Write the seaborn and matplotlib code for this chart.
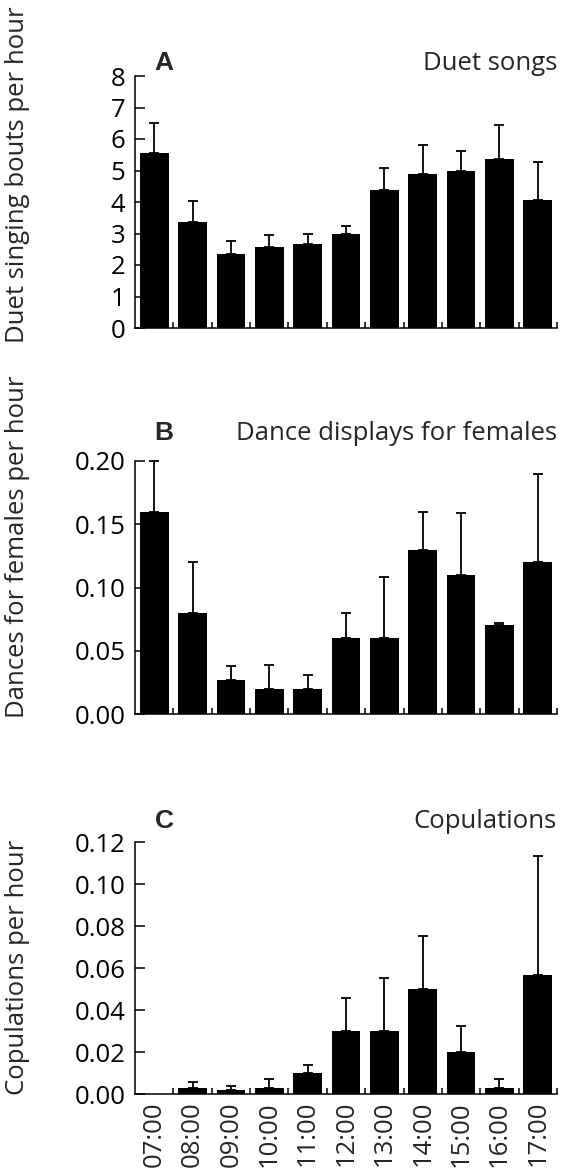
import numpy as np
import matplotlib
matplotlib.use("Agg")
import matplotlib.pyplot as plt
import seaborn as sns
from matplotlib.ticker import FixedLocator, FormatStrFormatter

hours = ["07:00", "08:00", "09:00", "10:00", "11:00", "12:00",
         "13:00", "14:00", "15:00", "16:00", "17:00"]

duet_mean = [5.55, 3.35, 2.35, 2.57, 2.67, 2.97, 4.37, 4.90, 4.97, 5.37, 4.07]
duet_se = [0.97, 0.67, 0.40, 0.38, 0.30, 0.28, 0.71, 0.92, 0.66, 1.07, 1.20]

dance_mean = [0.160, 0.080, 0.027, 0.020, 0.020, 0.060, 0.060, 0.130, 0.110, 0.070, 0.120]
dance_se = [0.040, 0.040, 0.011, 0.019, 0.011, 0.020, 0.048, 0.030, 0.049, 0.002, 0.070]

cop_mean = [0.0, 0.003, 0.002, 0.003, 0.010, 0.030, 0.030, 0.050, 0.020, 0.003, 0.0565]
cop_se = [0.0, 0.0028, 0.002, 0.004, 0.0037, 0.0157, 0.0253, 0.0253, 0.0122, 0.004, 0.0567]

panels = [
    dict(mean=duet_mean, se=duet_se, letter="A", title="Duet songs",
         ylabel="Duet singing bouts per hour", ticks=[0, 1, 2, 3, 4, 5, 6, 7, 8],
         fmt="%d", ylim=8, top_px=76, bot_px=328, label_y=175, head_px=63),
    dict(mean=dance_mean, se=dance_se, letter="B", title="Dance displays for females",
         ylabel="Dances for females per hour", ticks=[0, 0.05, 0.10, 0.15, 0.20],
         fmt="%.2f", ylim=0.20, top_px=461, bot_px=714, label_y=547, head_px=433),
    dict(mean=cop_mean, se=cop_se, letter="C", title="Copulations",
         ylabel="Copulations per hour", ticks=[0, 0.02, 0.04, 0.06, 0.08, 0.10, 0.12],
         fmt="%.2f", ylim=0.12, top_px=842, bot_px=1094, label_y=967, head_px=821),
]

sns.set_theme(style="ticks")
plt.rcParams['font.family'] = ['Open Sans', 'DejaVu Sans']

W, H = 563, 1169
fig = plt.figure(figsize=(W / 100, H / 100), dpi=100)
left_px, right_px = 135, 557
FS = 18.5

for i, p in enumerate(panels):
    ax = fig.add_axes([left_px / W, 1 - p["bot_px"] / H,
                       (right_px - left_px) / W, (p["bot_px"] - p["top_px"]) / H])
    sns.barplot(x=hours, y=p["mean"], color="black", saturation=1, width=0.75,
                errorbar=None, ax=ax, edgecolor="black", linewidth=0)
    xs = np.arange(len(hours))
    m = np.array(p["mean"])
    se = np.array(p["se"])
    keep = se > 0
    ax.errorbar(xs[keep], m[keep], yerr=[np.zeros(keep.sum()), se[keep]],
                fmt="none", ecolor="black", elinewidth=1.3, capsize=3.6,
                capthick=1.3, clip_on=False)
    ax.set_xlim(-0.5, 10.5)
    ax.set_ylim(0, p["ylim"])
    ax.yaxis.set_major_locator(FixedLocator(p["ticks"]))
    ax.yaxis.set_major_formatter(FormatStrFormatter(p["fmt"]))
    for s in ["top", "right"]:
        ax.spines[s].set_visible(False)
    for s in ["left", "bottom"]:
        ax.spines[s].set_linewidth(1.1)
        ax.spines[s].set_color("black")
    ax.tick_params(axis="y", direction="in", length=7, width=1.1, labelsize=FS,
                   pad=7, colors="black")
    ax.set_xticks(xs)
    ax.xaxis.set_minor_locator(FixedLocator(np.arange(0.5, 11, 1.0)))
    ax.tick_params(axis="x", which="minor", direction="in", length=4, width=1.1,
                   color="black")
    ax.tick_params(axis="x", which="major", length=0, labelsize=FS, pad=5)
    if i < 2:
        ax.set_xticklabels([])
    else:
        ax.set_xticklabels(hours, rotation=90, va="top")
    ax.set_xlabel("")
    ax.set_ylabel("")
    head_y = 1 - p["head_px"] / H
    fig.text(164 / W, head_y, p["letter"], fontsize=19,
             fontweight="bold", family=["Liberation Sans", "DejaVu Sans"],
             ha="center", va="center")
    fig.text(right_px / W, head_y, p["title"], fontsize=FS,
             ha="right", va="center")
    fig.text(18 / W, 1 - p["label_y"] / H, p["ylabel"], rotation=90,
             fontsize=FS, ha="center", va="center")

fig.savefig("out.png", dpi=100, facecolor="white")
